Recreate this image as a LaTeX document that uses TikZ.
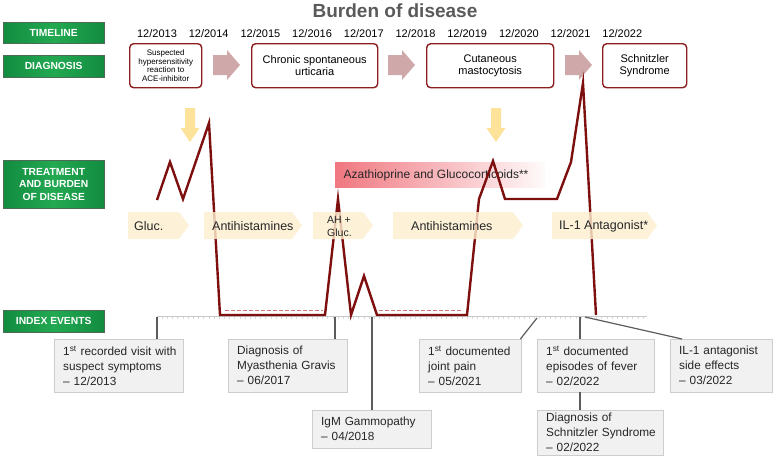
\documentclass[tikz,border=0pt]{standalone}
\usepackage{fontspec}
\setmainfont{Liberation Sans}
\definecolor{grn}{HTML}{23A952}
\definecolor{grne}{HTML}{128C40}
\definecolor{grnd}{HTML}{4D6B55}
\definecolor{dred}{HTML}{7E0F0F}
\definecolor{boxred}{HTML}{8B1F1F}
\definecolor{pinkarr}{HTML}{CFA9A9}
\definecolor{yel}{HTML}{FDE29A}
\definecolor{beige}{HTML}{FCEFD0}
\definecolor{evfill}{HTML}{F1F1F1}
\definecolor{evdraw}{HTML}{CDCDCD}
\definecolor{ttl}{HTML}{5A5A5A}
\definecolor{conn}{HTML}{5C5C5C}
\definecolor{azal}{HTML}{F07780}
\definecolor{dashred}{HTML}{D67878}
\newcommand\fsz[2]{\fontsize{#1}{#2}\selectfont}
\newcommand\ml[1]{\mbox{#1}}
\tikzset{
  greenlbl/.style={draw=grnd, left color=grne, right color=grne, middle color=grn, text=white,
    anchor=north west, minimum width=101pt, align=center, font=\bfseries\fsz{10.3}{12.5}, inner sep=0pt},
  dxbox/.style={draw=boxred, line width=1.4pt, rounded corners=4pt, align=center, inner sep=0pt,
    anchor=north west, font=\fsz{11}{12.5}},
  yearlbl/.style={anchor=base, font=\fsz{11}{13}},
  chevtxt/.style={anchor=west, font=\fsz{12.5}{14}, inner sep=0pt, text=black!85},
  evbox/.style={draw=evdraw, fill=evfill, anchor=north west, align=left, inner xsep=9pt,
    inner ysep=0pt, font=\fsz{11.8}{15}, text=black!85},
  evconn/.style={draw=conn, line width=1.2pt},
  burden/.style={draw=dred, line width=2.4pt},
  redash/.style={draw=dashred, line width=1pt, dash pattern=on 4pt off 2pt},
  pinkarrow/.style={fill=pinkarr},
  yelarrow/.style={fill=yel},
  chevfill/.style={fill=beige, fill opacity=0.82},
}
\begin{document}
\begin{tikzpicture}[x=1pt,y=-1pt]
\useasboundingbox (0,0) rectangle (774,459);

% title
\node[anchor=base, font=\bfseries\fsz{19}{22}, text=ttl] (title) at (395,17) {Burden of disease};

% green labels
\node[greenlbl, minimum height=21pt] (tl) at (3,22) {TIMELINE};
\node[greenlbl, minimum height=22pt] (dg) at (3,55) {DIAGNOSIS};
\node[greenlbl, minimum height=48pt] (tb) at (3,160) {TREATMENT\\AND BURDEN\\OF DISEASE};
\node[greenlbl, minimum height=22pt] (ie) at (3,310) {INDEX EVENTS};

% years
\foreach \i/\yr in {0/2013,1/2014,2/2015,3/2016,4/2017,5/2018,6/2019,7/2020,8/2021,9/2022}
  \node[yearlbl] (y\yr) at (157+\i*51.7,37) {12/\yr};

% diagnosis boxes
\node[dxbox, minimum width=72pt, minimum height=44pt, font=\fsz{8}{8.7}] (d1) at (129,43)
  {Suspected\\hypersensitivity\\reaction to\\ACE-inhibitor};
\node[dxbox, minimum width=126pt, minimum height=44pt] (d2) at (251,43) {Chronic spontaneous\\urticaria};
\node[dxbox, minimum width=127pt, minimum height=44pt] (d3) at (426,43) {Cutaneous\\mastocytosis};
\node[dxbox, minimum width=84pt, minimum height=44pt] (d4) at (602,43) {Schnitzler\\Syndrome};

% pink arrows between diagnoses
\foreach \x in {213,388,565}
  \fill[pinkarrow] (\x,55) -- (\x+14,55) -- (\x+14,50) -- (\x+27,65) -- (\x+14,80) -- (\x+14,75) -- (\x,75) -- cycle;

% yellow arrows
\foreach \x in {190,496}
  \fill[yelarrow] (\x-5,108) -- (\x+5,108) -- (\x+5,128) -- (\x+9.5,128) -- (\x,142) -- (\x-9.5,128) -- (\x-5,128) -- cycle;

% azathioprine box
\node[left color=azal, right color=white!97!azal, minimum width=210pt, minimum height=25pt,
  anchor=north west, inner sep=0pt] (aza) at (335,162) {};
\node[font=\fsz{12}{14}, text=black!85, inner sep=0pt] (azat) at (436,175) {Azathioprine and Glucocorticoids**};

% axis
\draw[black!22, line width=0.5pt] (157,316.5) -- (647,316.5);
\foreach \i in {0,...,94}
  \draw[black!15, line width=0.4pt] (157+\i*5.17,316.5) -- ++(0,2);

% dashed red lines
\draw[redash] (225,310) -- (323,310);
\draw[redash] (379,310) -- (463,310);

% burden line
\draw[burden] (157,200) -- (170,162) -- (183,199) -- (209,123) -- (220,315) -- (325,315)
  -- (338,199) -- (351,315) -- (364,276) -- (377,315) -- (467,315) -- (479,199) -- (493,161)
  -- (505,199) -- (557,199) -- (571,162) -- (583,83) -- (596,315);

% treatment chevrons
\fill[chevfill] (128,212) -- (179,212) -- (189,225.5) -- (179,239) -- (128,239) -- cycle;
\fill[chevfill] (204,212) -- (292,212) -- (302,225.5) -- (292,239) -- (204,239) -- cycle;
\fill[chevfill] (313,212) -- (363,212) -- (373,225.5) -- (363,239) -- (313,239) -- cycle;
\fill[chevfill] (393,212) -- (513,212) -- (523,225.5) -- (513,239) -- (393,239) -- cycle;
\fill[chevfill] (552,212) -- (647,212) -- (657,225.5) -- (647,239) -- (552,239) -- cycle;
\node[chevtxt] (t1) at (134,226) {Gluc.};
\node[chevtxt] (t2) at (212,226) {Antihistamines};
\node[chevtxt, font=\fsz{10.5}{13}, align=left] (t3) at (327,226) {AH +\\Gluc.};
\node[chevtxt] (t4) at (411,226) {Antihistamines};
\node[chevtxt] (t5) at (559,226) {IL-1 Antagonist*};

% event boxes
\node[evbox, minimum height=53pt, text width=111pt] (ev1) at (54,339)
  {\ml{1\textsuperscript{st} recorded visit with}\\\ml{suspect symptoms}\\\ml{– 12/2013}};
\node[evbox, minimum height=53pt, text width=101pt] (ev2) at (228,339)
  {\ml{Diagnosis of}\\\ml{Myasthenia Gravis}\\\ml{– 06/2017}};
\node[evbox, minimum height=38pt, text width=101pt] (ev3) at (312,410)
  {\ml{IgM Gammopathy}\\\ml{– 04/2018}};
\node[evbox, minimum height=53pt, text width=84pt] (ev4) at (419,339)
  {\ml{1\textsuperscript{st} documented}\\\ml{joint pain}\\\ml{– 05/2021}};
\node[evbox, minimum height=53pt, text width=99pt] (ev5) at (537,339)
  {\ml{1\textsuperscript{st} documented}\\\ml{episodes of fever}\\\ml{– 02/2022}};
\node[evbox, minimum height=45pt, text width=108pt] (ev6) at (537,410)
  {\ml{Diagnosis of}\\\ml{Schnitzler Syndrome}\\\ml{– 02/2022}};
\node[evbox, minimum height=53pt, text width=84pt] (ev7) at (670,339)
  {\ml{IL-1 antagonist}\\\ml{side effects}\\\ml{– 03/2022}};

% event connectors
\coordinate (a1) at (157,317);
\coordinate (a2) at (335,317);
\coordinate (a3) at (372,317);
\coordinate (a4) at (537,318);
\coordinate (a5) at (580,317);
\coordinate (a7) at (585,317);
\draw[evconn] (a1) -- (a1 |- ev1.north);
\draw[evconn] (a2) -- (a2 |- ev2.north);
\draw[evconn] (a3) -- (a3 |- ev3.north);
\draw[evconn] (a4) -- ([xshift=-1pt]ev4.north east);
\draw[evconn] (a5) -- (a5 |- ev5.north);
\draw[evconn] (a5 |- ev5.south) -- (a5 |- ev6.north);
\draw[evconn] (a7) -- ([xshift=12pt]ev7.north west);
\end{tikzpicture}
\end{document}
